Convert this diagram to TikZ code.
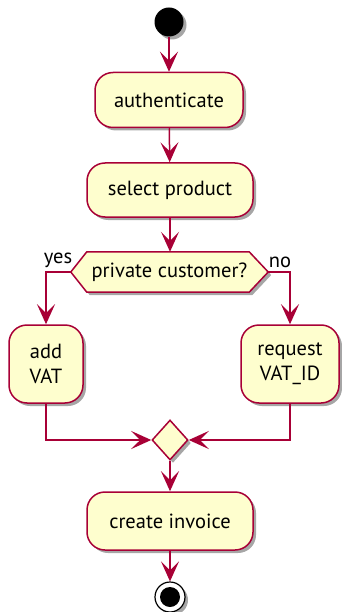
\documentclass[tikz,border=0pt]{standalone}
\usepackage{fontspec}
\setmainfont{PT Sans}
\usetikzlibrary{arrows.meta,shadows,shapes.geometric,calc}
\definecolor{umlfill}{HTML}{FEFECE}
\definecolor{umlline}{HTML}{A80036}
\begin{document}
\begin{tikzpicture}[x=1pt,y=-1pt,
  shad/.style={drop shadow={shadow xshift=3pt, shadow yshift=-3pt, opacity=0.35, fill=black}},
  act/.style={draw=umlline, fill=umlfill, line width=1.5pt, rounded corners=18pt,
    font=\fontsize{20.5}{25}\selectfont, align=center, inner sep=0pt, shad},
  lbl/.style={font=\fontsize{20.5}{25}\selectfont, inner sep=0pt},
  arr/.style={draw=umlline, line width=1.5pt, -{Stealth[length=20pt,width=18pt,inset=9pt]}}
]
\useasboundingbox (0,0) rectangle (341,612);
\node[circle, fill=black, minimum size=29pt, inner sep=0pt, shad] (start) at (169,22) {};
\node[act, minimum width=148pt, minimum height=55pt] (auth) at (169,100) {authenticate};
\node[act, minimum width=166pt, minimum height=54pt] (sel) at (170,190) {select product};
\node[lbl, minimum width=197pt, minimum height=40pt] (dec) at (169.5,272) {};
\path[shad] (dec.west) -- ($(dec.north west)+(16,0)$) -- ($(dec.north east)+(-19,0)$) -- (dec.east)
  -- ($(dec.south east)+(-19,0)$) -- ($(dec.south west)+(16,0)$) -- cycle;
\draw[draw=umlline, fill=umlfill, line width=1.5pt] (dec.west) -- ($(dec.north west)+(16,0)$) -- ($(dec.north east)+(-19,0)$) -- (dec.east)
  -- ($(dec.south east)+(-19,0)$) -- ($(dec.south west)+(16,0)$) -- cycle;
\node[lbl] (dectext) at (dec) {private customer?};
\node[lbl, anchor=south] (yes) at (58,268) {yes};
\node[lbl, anchor=south] (no) at (280,268) {no};
\node[act, minimum width=74pt, minimum height=78pt] (addvat) at (46,364) {add\\VAT};
\node[act, minimum width=98pt, minimum height=78pt] (req) at (290,364) {request\\VAT\_ID};
\node[diamond, draw=umlline, fill=umlfill, line width=1.5pt, minimum width=36pt, minimum height=40pt, inner sep=0pt, shad] (merge) at (170,440) {};
\node[act, minimum width=166pt, minimum height=58pt] (create) at (170,521) {create invoice};
\node[circle, draw=black, line width=1.2pt, fill=white, minimum size=30pt, inner sep=0pt, shad] (endc) at (170,597) {};
\node[circle, fill=black, minimum size=20pt, inner sep=0pt] (endi) at (endc) {};
\draw[arr] (start) -- (auth);
\draw[arr] (auth) -- (sel);
\draw[arr] (sel.south) -- (sel.south |- dec.north);
\draw[arr] (dec.west) -| (addvat.north);
\draw[arr] (dec.east) -| (req.north);
\draw[arr] (addvat.south) |- (merge.west);
\draw[arr] (req.south) |- (merge.east);
\draw[arr] (merge.south) -- (create.north);
\draw[arr] (create.south) -- (endc.north);
\end{tikzpicture}
\end{document}
